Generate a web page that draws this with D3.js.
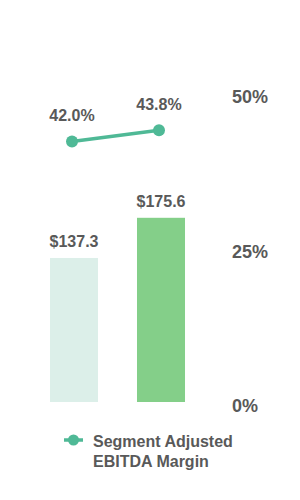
<!DOCTYPE html>
<html lang="en">
<head>
<meta charset="utf-8">
<title>Segment Adjusted EBITDA</title>
<script src="https://cdn.jsdelivr.net/npm/d3@7"></script>
<style>
body{margin:0;background:#fff;}
text{font-family:"Liberation Sans",Arial,sans-serif;font-weight:bold;fill:#595959;}
</style>
</head>
<body>
<script>
// data
var periods = ["P1", "P2"];
var ebitda = [137.3, 175.6];
var margin = [42.0, 43.8];
var barColors = ["#dcefe9", "#84cf89"];
var pctTicks = [0, 25, 50];

var w = 300, h = 500;
var lineColor = "#4fb996";

var svg = d3.select("body").append("svg")
  .attr("width", w)
  .attr("height", h);

// x: band scale for the two periods
var x = d3.scaleBand()
  .domain(periods)
  .range([30.5, 204.5])
  .paddingInner(0.448)
  .paddingOuter(0.224);

// left (hidden) scale for bars
var yBar = d3.scaleLinear().domain([0, 200]).range([402, 192.2]);
// right scale for margin %
var yPct = d3.scaleLinear().domain([0, 50]).range([401, 92]);

// bars
svg.selectAll("rect.bar")
  .data(ebitda)
  .enter()
  .append("rect")
  .attr("class", "bar")
  .attr("x", function(d, i){ return x(periods[i]); })
  .attr("y", function(d){ return yBar(d); })
  .attr("width", x.bandwidth())
  .attr("height", function(d){ return yBar(0) - yBar(d); })
  .attr("fill", function(d, i){ return barColors[i]; });

svg.selectAll("text.barlab")
  .data(ebitda)
  .enter()
  .append("text")
  .attr("class", "barlab")
  .attr("x", function(d, i){ return x(periods[i]) + x.bandwidth()/2; })
  .attr("y", function(d){ return yBar(d) - 11; })
  .attr("text-anchor", "middle")
  .attr("font-size", "16px")
  .text(function(d){ return "$" + d.toFixed(1); });

// right axis labels
var axis = d3.axisRight(yPct)
  .tickValues(pctTicks)
  .tickSize(0)
  .tickPadding(0)
  .tickFormat(function(d){ return d + "%"; });

var gAxis = svg.append("g")
  .attr("transform", "translate(232,0)")
  .call(axis);
gAxis.select(".domain").remove();
gAxis.selectAll("text")
  .attr("font-size", "18px")
  .attr("font-family", null)
  .attr("fill", null)
  .attr("dy", "0.7em")
  .attr("y", -2);

// margin line
var px = function(d, i){ return x(periods[i]) + x.bandwidth()/2 - 2; };
var line = d3.line()
  .x(px)
  .y(function(d){ return yPct(d); });

svg.append("path")
  .datum(margin)
  .attr("d", line)
  .attr("fill", "none")
  .attr("stroke", lineColor)
  .attr("stroke-width", 3.5);

svg.selectAll("circle.pt")
  .data(margin)
  .enter()
  .append("circle")
  .attr("class", "pt")
  .attr("cx", px)
  .attr("cy", function(d){ return yPct(d); })
  .attr("r", 6)
  .attr("fill", lineColor);

svg.selectAll("text.ptlab")
  .data(margin)
  .enter()
  .append("text")
  .attr("class", "ptlab")
  .attr("x", px)
  .attr("y", function(d){ return yPct(d) - 20; })
  .attr("text-anchor", "middle")
  .attr("font-size", "16px")
  .text(function(d){ return d.toFixed(1) + "%"; });

// legend
var lg = svg.append("g").attr("transform", "translate(0,440)");
lg.append("line")
  .attr("x1", 64).attr("x2", 83)
  .attr("y1", 0).attr("y2", 0)
  .attr("stroke", lineColor)
  .attr("stroke-width", 3.5);
lg.append("circle")
  .attr("cx", 73.5).attr("cy", 0).attr("r", 5.5)
  .attr("fill", lineColor);
lg.append("text")
  .attr("x", 93).attr("y", 7)
  .attr("font-size", "16px")
  .text("Segment Adjusted");
lg.append("text")
  .attr("x", 93).attr("y", 27)
  .attr("font-size", "16px")
  .text("EBITDA Margin");
</script>
</body>
</html>
